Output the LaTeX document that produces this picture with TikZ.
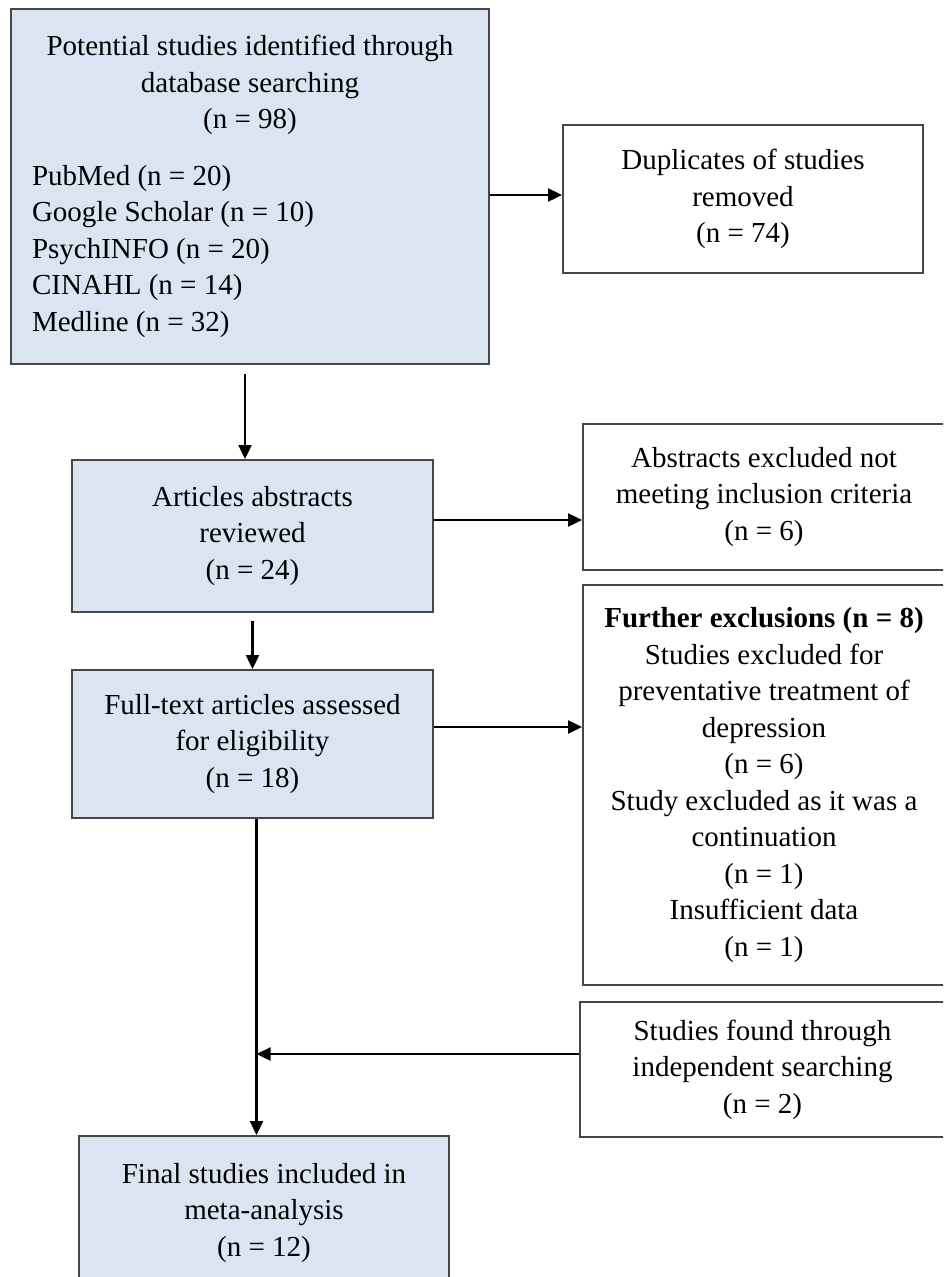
\documentclass[tikz,border=0pt]{standalone}
\usepackage{fontspec}
\setmainfont{Liberation Serif}
\usepackage{xcolor}
\definecolor{boxblue}{RGB}{219, 228, 241}
\definecolor{boxline}{RGB}{70, 70, 70}
\usepackage{tikz}
\usetikzlibrary{arrows.meta, calc}

\begin{document}
\begin{tikzpicture}[x=1pt, y=-1pt, >={Triangle[length=14pt, width=13pt]},
  flowbox/.style={draw=boxline, line width=2pt, align=center, inner sep=0pt,
    font=\fontsize{29}{36.5}\selectfont},
  bluebox/.style={flowbox, fill=boxblue},
  flowarrow/.style={->, line width=2.4pt}]
  \useasboundingbox (0,0) rectangle (943,1277);
  \clip (0,0) rectangle (943,1277);
  % identification
  \node[bluebox, anchor=north west, minimum width=478pt, minimum height=355pt,
    text width=436pt, align=flush left] (search) at (10,8) {%
    {\centering Potential studies identified through\\ database searching\\ (n = 98)\par}
    \vspace{20pt}
    PubMed (n = 20)\\ Google Scholar (n = 10)\\ PsychINFO (n = 20)\\
    CINAHL (n = 14)\\ Medline (n = 32)};
  \node[flowbox, minimum width=360pt, minimum height=148pt] (dup) at (743,199)
    {Duplicates of studies\\ removed\\ (n = 74)};
  % screening
  \node[bluebox, minimum width=361pt, minimum height=152pt] (abstracts) at (252.5,536)
    {Articles abstracts\\ reviewed\\ (n = 24)};
  \node[flowbox, minimum width=362pt, minimum height=146pt] (absexcl) at (764,497)
    {Abstracts excluded not\\ meeting inclusion criteria\\ (n = 6)};
  % eligibility
  \node[bluebox, minimum width=361pt, minimum height=148pt] (fulltext) at (252.5,744)
    {Full-text articles assessed\\ for eligibility\\ (n = 18)};
  \node[flowbox, minimum width=362pt, minimum height=400pt] (further) at (764,785)
    {\textbf{Further exclusions (n = 8)}\\ Studies excluded for\\ preventative treatment of\\
     depression\\ (n = 6)\\ Study excluded as it was a\\ continuation\\ (n = 1)\\
     Insufficient data\\ (n = 1)};
  \node[flowbox, minimum width=365pt, minimum height=135pt] (independent) at (762.5,1069.5)
    {Studies found through\\ independent searching\\ (n = 2)};
  % included
  \node[bluebox, anchor=north, minimum width=370pt, minimum height=154pt] (final) at (264,1135)
    {Final studies included in\\ meta-analysis\\ (n = 12)};
  % connectors
  \coordinate (trunk) at ([xshift=4pt]fulltext.south);
  \draw[flowarrow] ([yshift=4pt]dup.west -| search.east) -- ([yshift=4pt]dup.west);
  \draw[flowarrow] ([xshift=-5pt, yshift=-9pt]search.south) -- ([xshift=-5pt]search.south |- abstracts.north);
  \draw[flowarrow] ([yshift=16pt]abstracts.east) -- ([yshift=16pt]abstracts.east -| absexcl.west);
  \draw[flowarrow] ([yshift=-8pt]abstracts.south) -- (fulltext.north);
  \draw[flowarrow] ([yshift=17pt]fulltext.east) -- ([yshift=17pt]fulltext.east -| further.west);
  \draw[flowarrow] (trunk) -- (trunk |- final.north);
  \draw[flowarrow] ([yshift=15.5pt]independent.west) -- ([yshift=15.5pt]independent.west -| trunk);
\end{tikzpicture}
\end{document}
